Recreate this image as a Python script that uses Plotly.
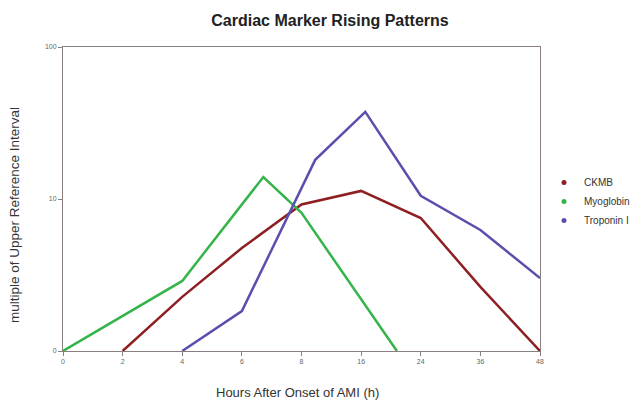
import plotly.graph_objects as go

# Category tick labels (evenly spaced hours)
hour_labels = ["0", "2", "4", "6", "8", "16", "24", "36", "48"]
y_tick_vals = [1, 10, 100]
y_tick_text = ["0", "10", "100"]

# Series: x in category-index units, y as multiple of URL (1 shown as "0")
ckmb_x = [1, 2, 3, 4, 5, 6, 7, 8]
ckmb_y = [1, 2.27, 4.76, 9.2, 11.3, 7.5, 2.64, 1]

myo_x = [0, 1, 2, 3.36, 4, 5.6]
myo_y = [1, 1.70, 2.89, 13.96, 8.1, 1]

trop_x = [2, 3, 4.23, 5.07, 6, 7, 8]
trop_y = [1, 1.83, 18.1, 37.4, 10.5, 6.25, 3.02]

names = ["CKMB", "Myoglobin", "Troponin I"]
colors = ["#8e1f22", "#35b44a", "#5b4fae"]
xs = [ckmb_x, myo_x, trop_x]
ys = [ckmb_y, myo_y, trop_y]

fig = go.Figure()
for n, c, x, y in zip(names, colors, xs, ys):
    fig.add_trace(go.Scatter(x=x, y=y, mode="lines", line=dict(color=c, width=2.5),
                             showlegend=False, name=n))
for n, c in zip(names, colors):
    fig.add_trace(go.Scatter(x=[None], y=[None], mode="markers", name=n,
                             marker=dict(color=c, size=5)))

W, H = 636, 403
fig.update_layout(
    width=W, height=H,
    margin=dict(l=63, r=96, t=47, b=52, autoexpand=False),
    paper_bgcolor="white", plot_bgcolor="white",
    title=dict(text="<b>Cardiac Marker Rising Patterns</b>", x=330 / W, xanchor="center",
               xref="container", y=1 - 20 / H, yref="container", yanchor="middle",
               font=dict(family="Liberation Sans, Arial, sans-serif", size=16, color="#222")),
    font=dict(family="Liberation Sans, Arial, sans-serif", color="#333"),
    legend=dict(xref="container", yref="container", x=544 / W, y=1 - 168 / H,
                xanchor="left", yanchor="top",
                font=dict(size=10, color="#333"), tracegroupgap=0,
                itemwidth=30, bgcolor="rgba(0,0,0,0)"),
    xaxis=dict(range=[0, 8], tickvals=list(range(len(hour_labels))), ticktext=hour_labels,
               showgrid=False, zeroline=False, showline=True, linecolor="#8a7f7f", linewidth=1,
               mirror=True, ticks="outside", ticklen=4, tickcolor="#8a7f7f",
               tickfont=dict(size=7, color="#666"), automargin=False),
    yaxis=dict(type="log", range=[0, 2], tickvals=y_tick_vals, ticktext=y_tick_text,
               showgrid=False, zeroline=False, showline=True, linecolor="#8a7f7f", linewidth=1,
               mirror=True, ticks="outside", ticklen=4, tickcolor="#8a7f7f",
               tickfont=dict(size=7, color="#666"), automargin=False),
    annotations=[
        dict(text="Hours After Onset of AMI (h)", xref="paper", yref="paper",
             x=(297 - 63) / 477, y=-(392 - 351) / 304, xanchor="center", yanchor="middle",
             showarrow=False, font=dict(size=13, color="#333")),
        dict(text="multiple of Upper Reference Interval", xref="paper", yref="paper",
             x=-(63 - 15) / 477, y=(351 - 215) / 304, xanchor="center", yanchor="middle",
             textangle=-90, showarrow=False, font=dict(size=13.5, color="#333")),
    ],
)

fig.write_html("out.html",
               config={"displayModeBar": False},
               post_script="document.body.style.margin='0px';document.body.style.overflow='hidden';")
